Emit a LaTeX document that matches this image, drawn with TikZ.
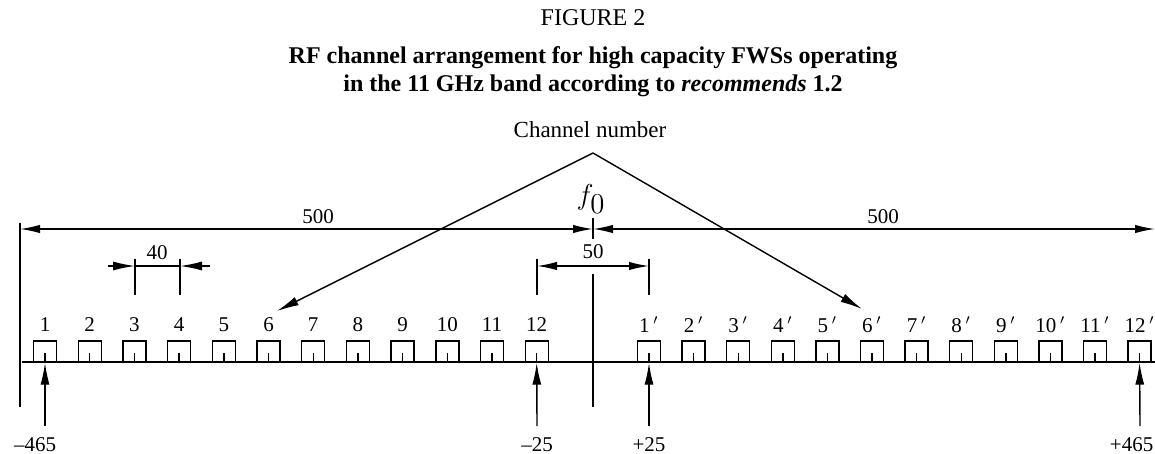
\documentclass[tikz,border=0pt]{standalone}
\usepackage{fontspec}
\setmainfont{Liberation Serif}
\usetikzlibrary{arrows.meta,positioning}

\begin{document}
\begin{tikzpicture}[
    x=0.5pt, y=-0.5pt,
    line width=0.7pt,
    lbl/.style={font=\fontsize{10.5}{12}\selectfont, inner sep=0pt},
    chbox/.style={draw, rectangle, minimum width=11.5pt, minimum height=10.5pt, inner sep=0pt},
    dim/.style={{Latex[length=10pt,width=4.2pt]}-{Latex[length=10pt,width=4.2pt]}},
    tip/.style={-{Latex[length=11pt,width=4.5pt]}}
]
    \useasboundingbox (0,0) rectangle (1155,454);

    % Titles
    \node[font=\fontsize{12}{14}\selectfont] (fig) at (593,18) {FIGURE 2};
    \node[font=\bfseries\fontsize{12}{14}\selectfont, align=center] (title) at (593,72)
        {RF channel arrangement for high capacity FWSs operating\\in the 11 GHz band according to \textit{recommends} 1.2};

    % Axis and reference lines
    \coordinate (axl) at (22,362);
    \coordinate (axr) at (1155,362);
    \draw (axl) -- (axr);
    \coordinate (lt) at (20,223);
    \coordinate (lb) at (20,407);
    \draw (lt) -- (lb);
    \coordinate (ct) at (593,274);
    \coordinate (cb) at (593,407);
    \draw (ct) -- (cb);

    % Go channels
    \foreach \k in {1,...,12} {
        \pgfmathsetmacro{\xx}{45+(\k-1)*44.7}
        \node[chbox] (b\k) at (\xx,351.5) {};
        \draw (b\k.south) -- ++(0,-10);
        \node[lbl] (ch\k) at (\xx,325) {\k};
    }
    % Return channels
    \foreach \k in {1,...,12} {
        \pgfmathsetmacro{\xx}{649+(\k-1)*44.6}
        \node[chbox] (bp\k) at (\xx,351.5) {};
        \draw (bp\k.south) -- ++(0,-10);
        \node[lbl] (chp\k) at (\xx,325) {\k\,$'$};
    }

    % Channel number
    \node[font=\fontsize{11.5}{13}\selectfont] (chnum) at (590,130) {Channel number};
    \coordinate (apex) at (593,153);
    \coordinate (to6) at (277,311);
    \coordinate (to6p) at (862,309);
    \draw[tip] (apex) -- (to6);
    \draw[tip] (apex) -- (to6p);

    % 500 / 500 about f0
    \coordinate (f0t) at (593,218);
    \coordinate (f0b) at (593,239);
    \draw (f0t) -- (f0b);
    \node[font=\fontsize{14}{16}\selectfont] (f0) at (591,199) {$f_{\textstyle 0}$};
    \coordinate (d500l) at (20,229);
    \coordinate (d500m) at (593,229);
    \coordinate (d500r) at (1155,229);
    \draw[dim] (d500l) -- (d500m);
    \draw[dim] (d500r) -- (d500m);
    \node[lbl] (w500l) at (318,217) {500};
    \node[lbl] (w500r) at (883,217) {500};

    % 40 spacing
    \coordinate (s3) at (135,259);
    \coordinate (s4) at (180,259);
    \draw (s3) -- ++(0,36);
    \draw (s4) -- ++(0,36);
    \draw[tip] (108,266) -- (135,266);
    \draw[tip] (210,266) -- (180,266);
    \draw (s3) ++(0,7) -- ++(45,0);
    \node[lbl] (w40) at (157,253) {40};

    % 50 centre gap
    \coordinate (g12) at (537,259);
    \coordinate (g1p) at (649,259);
    \draw (g12) -- ++(0,36);
    \draw (g1p) -- ++(0,36);
    \draw[dim] (537,266) -- (649,266);
    \node[lbl] (w50) at (593,252) {50};

    % Frequency markers
    \node[lbl] (m465) at (35,445) {\textendash465};
    \node[lbl] (m25) at (537,445) {\textendash25};
    \node[lbl] (p25) at (649,445) {+25};
    \node[lbl, anchor=east] (p465) at (1154,445) {+465};
    \draw[tip] (45,426) -- (b1.south);
    \draw[tip] (537,426) -- (b12.south);
    \draw[tip] (649,426) -- (bp1.south);
    \draw[tip] (1140,426) -- (bp12.south);
\end{tikzpicture}
\end{document}
